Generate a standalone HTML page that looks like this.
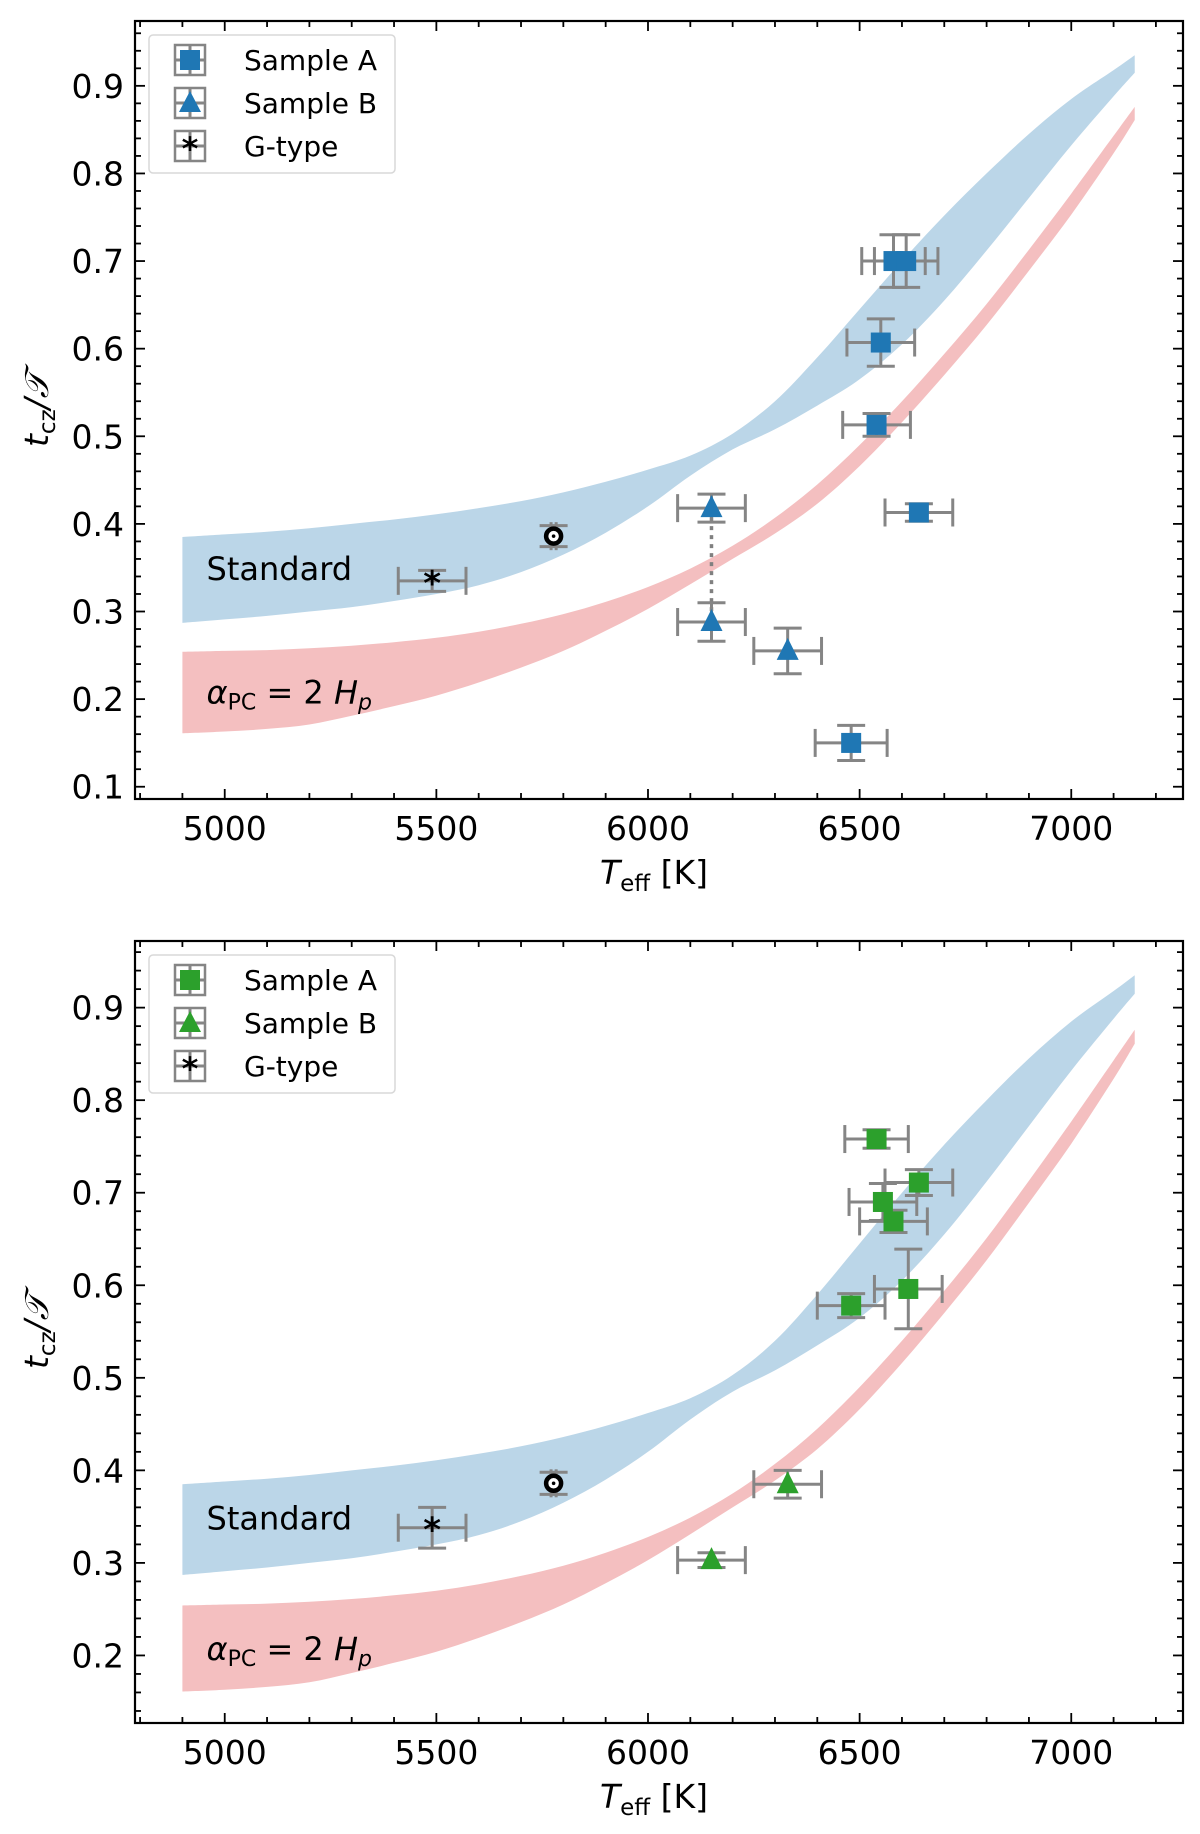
<!DOCTYPE html>
<html><head><meta charset="utf-8"><style>
html,body{margin:0;padding:0;background:#fff;}
svg{display:block;font-family:"DejaVu Sans","Liberation Sans",sans-serif;}
</style></head><body>
<svg id="fig" width="1200" height="1834" viewBox="0 0 1200 1834" xmlns="http://www.w3.org/2000/svg"></svg>
<script>
// ---- data ----
const bandT = [4900,5000,5100,5200,5300,5400,5500,5600,5700,5800,5900,6000,6100,6200,6300,6400,6500,6600,6700,6800,6900,7000,7100,7150];
const stdUpper = [0.385,0.388,0.391,0.395,0.400,0.405,0.411,0.418,0.426,0.436,0.448,0.462,0.478,0.503,0.540,0.590,0.645,0.700,0.752,0.800,0.845,0.885,0.918,0.935];
const stdLower = [0.287,0.291,0.295,0.300,0.305,0.312,0.320,0.330,0.345,0.365,0.390,0.420,0.455,0.485,0.508,0.535,0.565,0.605,0.655,0.712,0.772,0.832,0.888,0.915];
const pcUpper = [0.254,0.255,0.256,0.258,0.261,0.265,0.270,0.277,0.286,0.297,0.311,0.328,0.349,0.375,0.407,0.445,0.490,0.540,0.594,0.651,0.713,0.777,0.843,0.876];
const pcLower = [0.161,0.163,0.166,0.171,0.181,0.192,0.204,0.219,0.236,0.255,0.278,0.303,0.331,0.360,0.389,0.423,0.466,0.516,0.570,0.627,0.689,0.753,0.823,0.861];

const p1A_T = [6580,6610,6550,6540,6640,6480];
const p1A_v = [0.700,0.700,0.607,0.513,0.413,0.150];
const p1A_xe = [75,75,80,80,80,85];
const p1A_ye = [0.030,0.030,0.027,0.013,0.010,0.020];
const p1B_T = [6150,6150,6330];
const p1B_v = [0.418,0.288,0.255];
const p1B_xe = [80,80,80];
const p1B_ye = [0.016,0.022,0.026];
const p1G_T = [5490];
const p1G_v = [0.335];
const p1G_xe = [80];
const p1G_ye = [0.012];

const p2A_T = [6540,6640,6555,6580,6615,6480];
const p2A_v = [0.758,0.711,0.690,0.669,0.596,0.578];
const p2A_xe = [75,80,80,80,80,80];
const p2A_ye = [0.010,0.014,0.020,0.012,0.043,0.013];
const p2B_T = [6150,6330];
const p2B_v = [0.303,0.385];
const p2B_xe = [80,80];
const p2B_ye = [0.008,0.015];
const p2G_T = [5490];
const p2G_v = [0.338];
const p2G_xe = [80];
const p2G_ye = [0.022];

const sunT = 5777, sunV = 0.386;
const xTicks = [5000,5500,6000,6500,7000];
const y1Ticks = [0.1,0.2,0.3,0.4,0.5,0.6,0.7,0.8,0.9];
const y2Ticks = [0.2,0.3,0.4,0.5,0.6,0.7,0.8,0.9];

const NS = "http://www.w3.org/2000/svg";
const svg = document.getElementById('fig');
function mk(tag, attrs, parent){
  const e = document.createElementNS(NS, tag);
  for (const k in attrs) e.setAttribute(k, attrs[k]);
  (parent||svg).appendChild(e);
  return e;
}
function smooth(pts){
  let d = '';
  for (let i = 0; i < pts.length - 1; i++){
    const p0 = pts[Math.max(0,i-1)], p1 = pts[i], p2 = pts[i+1], p3 = pts[Math.min(pts.length-1,i+2)];
    const c1x = p1[0] + (p2[0]-p0[0])/6, c1y = p1[1] + (p2[1]-p0[1])/6;
    const c2x = p2[0] - (p3[0]-p1[0])/6, c2y = p2[1] - (p3[1]-p1[1])/6;
    d += `C${c1x.toFixed(1)},${c1y.toFixed(1)} ${c2x.toFixed(1)},${c2y.toFixed(1)} ${p2[0].toFixed(1)},${p2[1].toFixed(1)}`;
  }
  return d;
}

function drawPanel(id, L, R, T, B, vmin, vmax, yTicks, A, Bs, G, color, linked){
  const tmin = 4788, tmax = 7264;
  const X = t => L + (t - tmin) / (tmax - tmin) * (R - L);
  const Y = v => B - (v - vmin) / (vmax - vmin) * (B - T);
  const g = mk('g', {});
  
  

  function band(up, lo, fill, name){
    const U = bandT.map((t,i)=>[X(t), Y(up[i])]);
    const Lo = bandT.map((t,i)=>[X(t), Y(lo[i])]).reverse();
    const d = `M${U[0][0]},${U[0][1]}` + smooth(U) + `L${Lo[0][0]},${Lo[0][1]}` + smooth(Lo) + 'Z';
    const p = mk('path', {d: d, fill: fill}, g);
    
    
  }
  band(stdUpper, stdLower, '#bbd6e8', 'standard-band');
  band(pcUpper, pcLower, '#f4bfc0', 'overshoot-band');

  const t1 = mk('text', {x: X(4957), y: Y(0.336), 'font-size': 32, fill: '#000'}, g);
  t1.textContent = 'Standard';
  
  
  const t2 = mk('text', {x: X(4957), y: Y(0.195), 'font-size': 32, fill: '#000'}, g);
  t2.innerHTML = '<tspan font-style="italic">α</tspan><tspan font-size="22" dy="6">PC</tspan><tspan dy="-6"> = 2 </tspan><tspan font-style="italic">H</tspan><tspan font-style="italic" font-size="22" dy="6">p</tspan>';
  
  

  if (linked){
    const l = mk('line', {x1: X(linked[0]), x2: X(linked[0]), y1: Y(linked[1]), y2: Y(linked[2]), stroke: '#808080', 'stroke-width': 3.5, 'stroke-dasharray': '4,5'}, g);
    
    
  }

  function errbar(t, v, xe, ye){
    const eg = mk('g', {stroke: '#858585', 'stroke-width': 3, fill: 'none'}, g);
    
    
    const x = X(t), y = Y(v), x0 = X(t - xe), x1 = X(t + xe), y0 = Y(v - ye), y1 = Y(v + ye);
    mk('line', {x1: x0, x2: x1, y1: y, y2: y}, eg);
    mk('line', {x1: x, x2: x, y1: y0, y2: y1}, eg);
    mk('line', {x1: x0, x2: x0, y1: y - 14, y2: y + 14}, eg);
    mk('line', {x1: x1, x2: x1, y1: y - 14, y2: y + 14}, eg);
    mk('line', {x1: x - 14, x2: x + 14, y1: y0, y2: y0}, eg);
    mk('line', {x1: x - 14, x2: x + 14, y1: y1, y2: y1}, eg);
  }
  function square(x, y, name){
    const r = mk('rect', {x: x - 10, y: y - 10, width: 20, height: 20, fill: color}, g);
    
    
  }
  function tri(x, y, name){
    const p = mk('path', {d: `M${x},${y-13}L${x+11},${y+9}L${x-11},${y+9}Z`, fill: color}, g);
    
    
  }
  function star(x, y, name){
    const s = mk('text', {x: x, y: y + 14, 'font-size': 34, 'font-weight': 'bold', 'text-anchor': 'middle', fill: '#000'}, g);
    s.textContent = '*';
    
    
  }
  A[0].forEach((t,i)=>{ errbar(t, A[1][i], A[2][i], A[3][i]); });
  A[0].forEach((t,i)=>{ square(X(t), Y(A[1][i]), 'sample-a-point'); });
  Bs[0].forEach((t,i)=>{ errbar(t, Bs[1][i], Bs[2][i], Bs[3][i]); tri(X(t), Y(Bs[1][i]), 'sample-b-point'); });
  G[0].forEach((t,i)=>{ errbar(t, G[1][i], G[2][i], G[3][i]); star(X(t), Y(G[1][i]), 'g-type-point'); });
  errbar(sunT, sunV, 6, 0.012);
  const sc = mk('circle', {cx: X(sunT), cy: Y(sunV), r: 7.5, fill: '#fff', stroke: '#000', 'stroke-width': 4.5}, g);
  
  
  mk('circle', {cx: X(sunT), cy: Y(sunV), r: 1.8, fill: '#000'}, g);

  const fr = mk('rect', {x: L, y: T, width: R - L, height: B - T, fill: 'none', stroke: '#000', 'stroke-width': 2.2}, g);
  
  
  const tg = mk('g', {stroke: '#000', 'stroke-width': 1.8}, g);
  for (let t = 4800; t <= 7200; t += 100){
    const x = X(t), len = (t % 500 === 0) ? 10 : 6;
    mk('line', {x1: x, x2: x, y1: B, y2: B - len}, tg);
    mk('line', {x1: x, x2: x, y1: T, y2: T + len}, tg);
  }
  for (let k = Math.ceil(vmin * 50); k <= Math.floor(vmax * 50); k++){
    const v = k / 50, y = Y(v), len = (k % 5 === 0) ? 10 : 6;
    mk('line', {x1: L, x2: L + len, y1: y, y2: y}, tg);
    mk('line', {x1: R, x2: R - len, y1: y, y2: y}, tg);
  }
  xTicks.forEach(t=>{
    const tx = mk('text', {x: X(t), y: B + 41, 'font-size': 33, 'text-anchor': 'middle'}, g);
    tx.textContent = t;
    
    
  });
  yTicks.forEach(v=>{
    const ty = mk('text', {x: L - 11, y: Y(v) + 12, 'font-size': 33, 'text-anchor': 'end'}, g);
    ty.textContent = v.toFixed(1);
    
    
  });
  const xt = mk('text', {x: (L + R) / 2 - 5, y: B + 85, 'font-size': 33, 'text-anchor': 'middle'}, g);
  xt.innerHTML = '<tspan font-style="italic">T</tspan><tspan font-size="23" dy="7">eff</tspan><tspan dy="-7"> [K]</tspan>';
  
  
  const yc = (T + B) / 2;
  const yt = mk('text', {x: 0, y: 0, 'font-size': 33, 'text-anchor': 'middle', transform: `translate(48,${yc}) rotate(-90)`}, g);
  yt.innerHTML = '<tspan font-style="italic">t</tspan><tspan font-size="23" dy="7">cz</tspan><tspan dy="-7" font-style="italic">/𝒯</tspan>';
  
  

  const lg = mk('g', {}, g);
  
  
  mk('rect', {x: L + 14, y: T + 14, width: 246, height: 138, rx: 4, fill: '#fff', 'fill-opacity': 0.85, stroke: '#d8d8d8', 'stroke-width': 1.5}, lg);
  const names = ['Sample A', 'Sample B', 'G-type'];
  names.forEach((n,i)=>{
    const cy = T + 39 + i * 43, cx = L + 55;
    mk('rect', {x: cx - 15, y: cy - 15, width: 30, height: 30, fill: 'none', stroke: '#858585', 'stroke-width': 2.5}, lg);
    mk('line', {x1: cx - 15, x2: cx + 15, y1: cy, y2: cy, stroke: '#858585', 'stroke-width': 3}, lg);
    mk('line', {x1: cx, x2: cx, y1: cy - 15, y2: cy + 15, stroke: '#858585', 'stroke-width': 3}, lg);
    if (i === 0) mk('rect', {x: cx - 10, y: cy - 10, width: 20, height: 20, fill: color}, lg);
    if (i === 1) mk('path', {d: `M${cx},${cy-12}L${cx+11},${cy+9}L${cx-11},${cy+9}Z`, fill: color}, lg);
    if (i === 2){ const s = mk('text', {x: cx, y: cy + 14, 'font-size': 32, 'font-weight': 'bold', 'text-anchor': 'middle'}, lg); s.textContent = '*'; }
    const tx = mk('text', {x: L + 109, y: cy + 10, 'font-size': 28}, lg);
    tx.textContent = n;
    
    
  });
}

drawPanel('top-panel', 135, 1183, 21, 799, 0.086, 0.974, y1Ticks,
  [p1A_T, p1A_v, p1A_xe, p1A_ye], [p1B_T, p1B_v, p1B_xe, p1B_ye], [p1G_T, p1G_v, p1G_xe, p1G_ye],
  '#1f77b4', [p1B_T[0], p1B_v[0], p1B_v[1]]);
drawPanel('bottom-panel', 135, 1183, 941, 1723, 0.127, 0.972, y2Ticks,
  [p2A_T, p2A_v, p2A_xe, p2A_ye], [p2B_T, p2B_v, p2B_xe, p2B_ye], [p2G_T, p2G_v, p2G_xe, p2G_ye],
  '#2ca02c', null);
</script>
</body></html>
